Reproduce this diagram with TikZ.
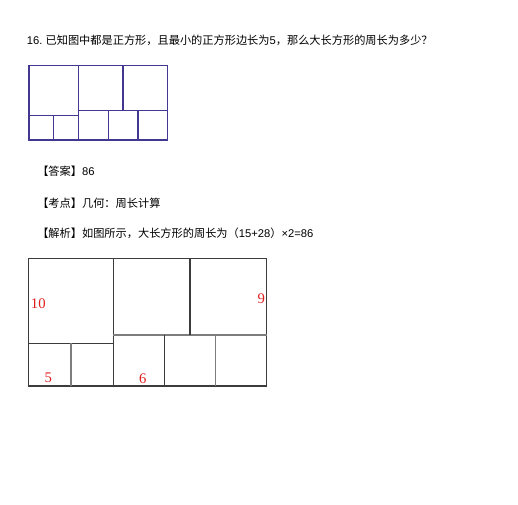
\documentclass[tikz,border=0pt]{standalone}
\usepackage{fontspec}
\setmainfont{Liberation Sans}
\newfontfamily\cjk{Noto Sans CJK SC}
\newfontfamily\numfont{Liberation Serif}
\definecolor{gridblue}{RGB}{66,56,146}
\definecolor{griddark}{RGB}{60,60,60}
\definecolor{gridgray}{RGB}{125,125,125}
\definecolor{labelred}{RGB}{222,30,30}
\tikzset{
  txt/.style={anchor=west,inner sep=0pt,font=\fontsize{8.4pt}{10pt}\selectfont},
  len/.style={text=labelred,inner sep=0pt,font=\numfont\fontsize{11pt}{13pt}\selectfont},
  smallgrid/.style={draw=gridblue,line width=1pt},
  biggrid/.style={draw=griddark,line width=1pt},
  lightline/.style={draw=gridgray,line width=1pt}
}
\begin{document}
\begin{tikzpicture}[x=0.75pt,y=-0.75pt]
    \useasboundingbox (0,0) rectangle (518,505);
    % question
    \node[txt] (q) at (26.7,40) {16.\ {\cjk 已知图中都是正方形，且最小的正方形边长为}5{\cjk ，那么大长方形的周长为多少？}};
    % small figure
    \begin{scope}[shift={(29,65.7)},scale=4.95]
        \draw[smallgrid] (0,0) rectangle (28,15);
        \draw[smallgrid] (10,0) -- (10,15);
        \draw[smallgrid] (0,10) -- (10,10);
        \draw[smallgrid] (5,10) -- (5,15);
        \draw[smallgrid] (10,9) -- (28,9);
        \draw[smallgrid] (19,0) -- (19,9);
        \draw[smallgrid] (16,9) -- (16,15);
        \draw[smallgrid] (22,9) -- (22,15);
    \end{scope}
    % answer lines
    \node[txt] (ans) at (37,171.7) {{\cjk 【答案】}86};
    \node[txt] (kd) at (37,203) {\cjk 【考点】几何：周长计算};
    \node[txt] (jx) at (37,233.3) {{\cjk 【解析】如图所示，大长方形的周长为（}15+28{\cjk ）}×2=86};
    % big figure
    \begin{scope}[shift={(28.3,258.3)},scale=8.51]
        \draw[biggrid] (0,0) rectangle (28,15);
        \draw[biggrid] (10,0) -- (10,15);
        \draw[biggrid] (0,10) -- (10,10);
        \draw[lightline] (5,10) -- (5,15);
        \draw[lightline] (10,9) -- (28,9);
        \draw[biggrid] (19,0) -- (19,9);
        \draw[biggrid] (16,9) -- (16,15);
        \draw[lightline] (22,9) -- (22,15);
    \end{scope}
    \node[len] (ten) at (38.3,303.3) {10};
    \node[len] (nine) at (261.3,298.3) {9};
    \node[len] (five) at (48.3,377.7) {5};
    \node[len] (six) at (142.7,378.3) {6};
\end{tikzpicture}
\end{document}
